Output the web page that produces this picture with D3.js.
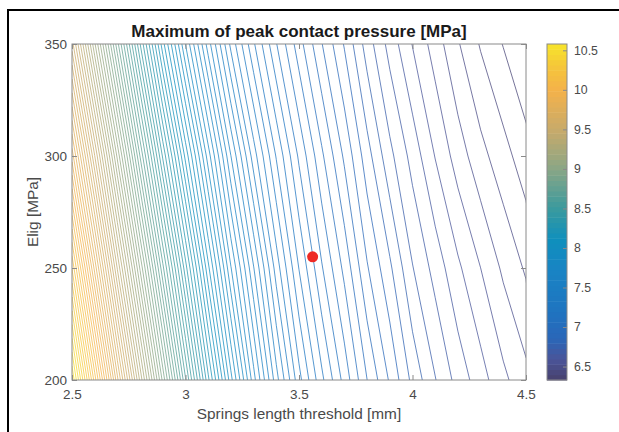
<!DOCTYPE html>
<html>
<head>
<meta charset="utf-8">
<script src="https://cdn.jsdelivr.net/npm/d3@7"></script>
<style>
  body { margin: 0; background: #fff; }
  svg { display: block; font-family: 'Liberation Sans', Arial, sans-serif; }
</style>
</head>
<body>
<svg id="chart" width="619" height="432"></svg>
<script>
// grid: springs length threshold [mm] x Elig [MPa]
var springLength = [2.5, 2.6, 2.7, 2.8, 2.9, 3.0, 3.1, 3.2, 3.3, 3.4, 3.5, 3.6, 3.7, 3.8, 3.9, 4.0, 4.1, 4.2, 4.3, 4.4, 4.5]
var elig = [200, 250, 300, 350]

// maximum of peak contact pressure [MPa], one row per Elig value
var pressure200 = [10.59, 10.15, 9.72, 9.32, 8.94, 8.58, 8.25, 7.96, 7.71, 7.50, 7.33, 7.20, 7.09, 6.98, 6.89, 6.80, 6.73, 6.67, 6.62, 6.57, 6.53]
var pressure250 = [10.25, 9.82, 9.41, 9.03, 8.67, 8.34, 8.04, 7.78, 7.57, 7.38, 7.23, 7.11, 7.01, 6.90, 6.82, 6.73, 6.67, 6.61, 6.56, 6.51, 6.47]
var pressure300 = [9.90, 9.50, 9.11, 8.74, 8.40, 8.10, 7.84, 7.61, 7.42, 7.27, 7.14, 7.03, 6.93, 6.83, 6.74, 6.67, 6.60, 6.54, 6.49, 6.45, 6.41]
var pressure350 = [9.56, 9.17, 8.80, 8.45, 8.13, 7.86, 7.63, 7.43, 7.28, 7.15, 7.04, 6.94, 6.85, 6.75, 6.67, 6.60, 6.54, 6.48, 6.43, 6.39, 6.35]

// chosen design point (red marker)
var optimum = [3.56, 255]

var xTicks = [2.5, 3, 3.5, 4, 4.5]
var yTicks = [200, 250, 300, 350]
var cTicks = [6.5, 7, 7.5, 8, 8.5, 9, 9.5, 10, 10.5]
var cRange = [6.33, 10.58]
var levelCount = 100

// parula-like map, as it looks in the picture
var cmapStops = [6.33, 6.6, 6.85, 7.2, 7.7, 8.1, 8.5, 9.0, 9.5, 10.0, 10.3, 10.58]
var cmapColors = ['#48406c', '#4a559a', '#2a66b8', '#1f74c0', '#1983c4', '#0f8fbd', '#3a9a9e', '#8aa686', '#c8aa6a', '#f4b24a', '#f5c63a', '#f7e52a']

;(function () {
  var svg = d3.select('#chart')
  var plot = {left: 72, right: 526, top: 44, bottom: 380}
  var bar = {left: 547, right: 567}
  var grey = '#8a8a8a'
  var ink = '#4a4a4a'

  var x = d3.scaleLinear().domain([2.5, 4.5]).range([plot.left, plot.right])
  var y = d3.scaleLinear().domain([200, 350]).range([plot.bottom, plot.top])
  var color = d3.scaleLinear().domain(cmapStops).range(cmapColors).clamp(true)
  var cy = d3.scaleLinear().domain(cRange).range([plot.bottom, plot.top])

  // figure frame
  svg.append('path')
      .attr('d', 'M8,440V10H630')
      .attr('fill', 'none')
      .attr('stroke', '#000')
      .attr('stroke-width', 2)

  /*
      --------------------------------------
      Contour lines
  */
  var nx = springLength.length
  var ny = elig.length
  var values = [].concat(pressure200, pressure250, pressure300, pressure350)
  var ext = d3.extent(values)
  var step = (ext[1] - ext[0]) / (levelCount + 1)
  var levels = d3.range(1, levelCount + 1).map(i => ext[0] + i * step)

  var contours = d3.contours()
      .size([nx, ny])
      .thresholds(levels)(values)

  var gx = d3.scaleLinear().domain([0.5, nx - 0.5]).range([x(springLength[0]), x(springLength[nx - 1])])
  var gy = d3.scaleLinear().domain([0.5, ny - 0.5]).range([y(elig[0]), y(elig[ny - 1])])
  var path = d3.geoPath(d3.geoTransform({
    point: function (px, py) { this.stream.point(gx(px), gy(py)) }
  }))

  svg.append('clipPath').attr('id', 'plotclip')
    .append('rect')
      .attr('x', plot.left)
      .attr('y', plot.top)
      .attr('width', plot.right - plot.left)
      .attr('height', plot.bottom - plot.top)

  svg.append('g')
      .attr('clip-path', 'url(#plotclip)')
    .selectAll('path')
    .data(contours)
    .join('path')
      .attr('d', path)
      .attr('fill', 'none')
      .attr('stroke', d => color(d.value))
      .attr('stroke-width', 0.75)

  // red marker
  svg.append('circle')
      .attr('cx', x(optimum[0]))
      .attr('cy', y(optimum[1]))
      .attr('r', 5.5)
      .attr('fill', '#ee2a24')

  /*
      --------------------------------------
      Axes
  */
  function styleAxis (g) {
    g.select('.domain').remove()
    g.selectAll('line').attr('stroke', grey)
    g.selectAll('text').attr('fill', ink).style('font-size', '13.5px')
  }

  svg.append('g')
      .attr('transform', `translate(0,${plot.bottom})`)
      .call(d3.axisBottom(x).tickValues(xTicks).tickFormat(String).tickSizeInner(-5).tickSizeOuter(0).tickPadding(9))
      .call(styleAxis)

  svg.append('g')
      .attr('transform', `translate(0,${plot.top})`)
      .call(d3.axisTop(x).tickValues(xTicks).tickFormat('').tickSizeInner(-5).tickSizeOuter(0))
      .call(styleAxis)

  svg.append('g')
      .attr('transform', `translate(${plot.left},0)`)
      .call(d3.axisLeft(y).tickValues(yTicks).tickFormat(String).tickSizeInner(-5).tickSizeOuter(0).tickPadding(5))
      .call(styleAxis)

  svg.append('g')
      .attr('transform', `translate(${plot.right},0)`)
      .call(d3.axisRight(y).tickValues(yTicks).tickFormat('').tickSizeInner(-5).tickSizeOuter(0))
      .call(styleAxis)

  svg.append('rect')
      .attr('x', plot.left)
      .attr('y', plot.top)
      .attr('width', plot.right - plot.left)
      .attr('height', plot.bottom - plot.top)
      .attr('fill', 'none')
      .attr('stroke', grey)

  /*
      --------------------------------------
      Colorbar
  */
  var bands = d3.range(64).map(i => cRange[0] + i * (cRange[1] - cRange[0]) / 64)
  var bandH = (plot.bottom - plot.top) / 64

  svg.append('g').selectAll('rect')
    .data(bands)
    .join('rect')
      .attr('x', bar.left)
      .attr('y', d => cy(d) - bandH)
      .attr('width', bar.right - bar.left)
      .attr('height', bandH + 0.5)
      .attr('fill', d => color(d + (cRange[1] - cRange[0]) / 128))

  svg.append('g')
      .attr('transform', `translate(${bar.right},0)`)
      .call(d3.axisRight(cy).tickValues(cTicks).tickFormat(String).tickSizeInner(-4).tickSizeOuter(0).tickPadding(7))
      .call(styleAxis)
      .call(g => g.selectAll('text').style('font-size', '12.3px'))

  svg.append('rect')
      .attr('x', bar.left)
      .attr('y', plot.top)
      .attr('width', bar.right - bar.left)
      .attr('height', plot.bottom - plot.top)
      .attr('fill', 'none')
      .attr('stroke', grey)

  /*
      --------------------------------------
      Labels
  */
  svg.append('text')
      .attr('x', (plot.left + plot.right) / 2)
      .attr('y', 36.5)
      .attr('text-anchor', 'middle')
      .style('font-size', '17px')
      .style('font-weight', 'bold')
      .attr('fill', '#1a1a1a')
      .text('Maximum of peak contact pressure [MPa]')

  svg.append('text')
      .attr('x', (plot.left + plot.right) / 2)
      .attr('y', 419)
      .attr('text-anchor', 'middle')
      .style('font-size', '15.4px')
      .attr('fill', ink)
      .text('Springs length threshold [mm]')

  svg.append('text')
      .attr('transform', `translate(38,212) rotate(-90)`)
      .attr('text-anchor', 'middle')
      .style('font-size', '15.4px')
      .attr('fill', ink)
      .text('Elig [MPa]')
})()
</script>
</body>
</html>
